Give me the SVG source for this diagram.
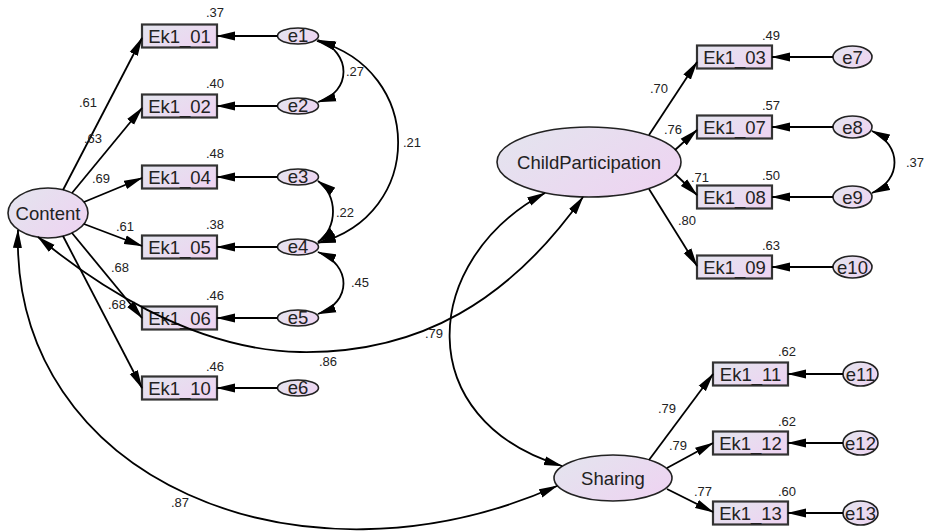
<svg xmlns="http://www.w3.org/2000/svg" width="925" height="532" viewBox="0 0 925 532">
<defs>
<linearGradient id="g" x1="0" y1="0" x2="1" y2="0.6">
<stop offset="0" stop-color="#e3e5ee"/>
<stop offset="1" stop-color="#edd5f1"/>
</linearGradient>
<marker id="a" markerUnits="userSpaceOnUse" markerWidth="19" markerHeight="10" viewBox="0 0 19 10" refX="18" refY="5" orient="auto-start-reverse">
<path d="M0,0.5 L19,5 L0,9.5 Z" fill="#000"/>
</marker>
<style>
.b{fill:url(#g);stroke:#333;stroke-width:2.2}
.l{fill:url(#g);stroke:#222;stroke-width:1.6}
.t{font-family:"Liberation Sans",Arial,sans-serif;font-size:18.5px;fill:#222;text-anchor:middle}
.n{font-family:"Liberation Sans",Arial,sans-serif;font-size:13px;fill:#222;text-anchor:middle}
.c path,.c line{fill:none;stroke:#000;stroke-width:1.8}
.c .s{marker-end:url(#a)}
.c .d{marker-start:url(#a);marker-end:url(#a)}
</style>
</defs>
<rect width="925" height="532" fill="#fff"/>

<g id="Content"><ellipse class="l" cx="48" cy="213" rx="40" ry="25"/><text class="t" x="48" y="219.5">Content</text></g>
<g id="ChildParticipation"><ellipse class="l" cx="589" cy="162" rx="92" ry="35"/><text class="t" x="589" y="168.5">ChildParticipation</text></g>
<g id="Sharing"><ellipse class="l" cx="613" cy="478" rx="59" ry="23"/><text class="t" x="613" y="484.5">Sharing</text></g>

<g id="Ek1_01"><rect class="b" x="142" y="24.5" width="75" height="23"/><text class="t" x="179.5" y="42.5">Ek1_01</text></g>
<g id="Ek1_02"><rect class="b" x="142" y="94.5" width="75" height="23"/><text class="t" x="179.5" y="112.5">Ek1_02</text></g>
<g id="Ek1_04"><rect class="b" x="142" y="165.5" width="75" height="23"/><text class="t" x="179.5" y="183.5">Ek1_04</text></g>
<g id="Ek1_05"><rect class="b" x="142" y="235.5" width="75" height="23"/><text class="t" x="179.5" y="253.5">Ek1_05</text></g>
<g id="Ek1_06"><rect class="b" x="142" y="306.5" width="75" height="23"/><text class="t" x="179.5" y="324.5">Ek1_06</text></g>
<g id="Ek1_10"><rect class="b" x="142" y="376.5" width="75" height="23"/><text class="t" x="179.5" y="394.5">Ek1_10</text></g>
<g id="Ek1_03"><rect class="b" x="697" y="45.5" width="75" height="23"/><text class="t" x="734.5" y="63.5">Ek1_03</text></g>
<g id="Ek1_07"><rect class="b" x="697" y="115.5" width="75" height="23"/><text class="t" x="734.5" y="133.5">Ek1_07</text></g>
<g id="Ek1_08"><rect class="b" x="697" y="185.5" width="75" height="23"/><text class="t" x="734.5" y="203.5">Ek1_08</text></g>
<g id="Ek1_09"><rect class="b" x="697" y="255.5" width="75" height="23"/><text class="t" x="734.5" y="273.5">Ek1_09</text></g>
<g id="Ek1_11"><rect class="b" x="713" y="362.5" width="75" height="23"/><text class="t" x="750.5" y="380.5">Ek1_11</text></g>
<g id="Ek1_12"><rect class="b" x="713" y="431.5" width="75" height="23"/><text class="t" x="750.5" y="449.5">Ek1_12</text></g>
<g id="Ek1_13"><rect class="b" x="713" y="501.5" width="75" height="23"/><text class="t" x="750.5" y="519.5">Ek1_13</text></g>

<g id="e1"><ellipse class="l" cx="298" cy="36" rx="20.5" ry="8"/><text class="t" x="298" y="42">e1</text></g>
<g id="e2"><ellipse class="l" cx="298" cy="106" rx="20.5" ry="8"/><text class="t" x="298" y="112">e2</text></g>
<g id="e3"><ellipse class="l" cx="298" cy="177" rx="20.5" ry="8"/><text class="t" x="298" y="183">e3</text></g>
<g id="e4"><ellipse class="l" cx="298" cy="247" rx="20.5" ry="8"/><text class="t" x="298" y="253">e4</text></g>
<g id="e5"><ellipse class="l" cx="298" cy="318" rx="20.5" ry="8"/><text class="t" x="298" y="324">e5</text></g>
<g id="e6"><ellipse class="l" cx="298" cy="388" rx="20.5" ry="8"/><text class="t" x="298" y="394">e6</text></g>
<g id="e7"><ellipse class="l" cx="852.5" cy="57" rx="19.5" ry="11"/><text class="t" x="852.5" y="63.5">e7</text></g>
<g id="e8"><ellipse class="l" cx="852.5" cy="127" rx="19.5" ry="11"/><text class="t" x="852.5" y="133.5">e8</text></g>
<g id="e9"><ellipse class="l" cx="852.5" cy="197" rx="19.5" ry="11"/><text class="t" x="852.5" y="203.5">e9</text></g>
<g id="e10"><ellipse class="l" cx="852.5" cy="267" rx="19.5" ry="11"/><text class="t" x="852.5" y="273.5">e10</text></g>
<g id="e11"><ellipse class="l" cx="860.5" cy="374" rx="17.5" ry="12"/><text class="t" x="860.5" y="380.5">e11</text></g>
<g id="e12"><ellipse class="l" cx="860.5" cy="443" rx="17.5" ry="12"/><text class="t" x="860.5" y="449.5">e12</text></g>
<g id="e13"><ellipse class="l" cx="860.5" cy="513" rx="17.5" ry="12"/><text class="t" x="860.5" y="519.5">e13</text></g>

<g id="connectors" class="c">
<line class="s" x1="63" y1="190" x2="142" y2="38"/>
<line class="s" x1="72" y1="193" x2="142" y2="108"/>
<line class="s" x1="84" y1="202" x2="142" y2="178"/>
<line class="s" x1="84" y1="224" x2="142" y2="246"/>
<line class="s" x1="72" y1="233" x2="142" y2="318"/>
<line class="s" x1="63" y1="236" x2="142" y2="388"/>
<line class="s" x1="277.5" y1="36" x2="217" y2="36"/>
<line class="s" x1="277.5" y1="106" x2="217" y2="106"/>
<line class="s" x1="277.5" y1="177" x2="217" y2="177"/>
<line class="s" x1="277.5" y1="247" x2="217" y2="247"/>
<line class="s" x1="277.5" y1="318" x2="217" y2="318"/>
<line class="s" x1="277.5" y1="388" x2="217" y2="388"/>
<line class="s" x1="649" y1="135" x2="697" y2="62"/>
<line class="s" x1="675" y1="150" x2="697" y2="130"/>
<line class="s" x1="675" y1="174" x2="697" y2="195"/>
<line class="s" x1="649" y1="189" x2="697" y2="266"/>
<line class="s" x1="833" y1="57" x2="772" y2="57"/>
<line class="s" x1="833" y1="127" x2="772" y2="127"/>
<line class="s" x1="833" y1="197" x2="772" y2="197"/>
<line class="s" x1="833" y1="267" x2="772" y2="267"/>
<line class="s" x1="649" y1="460" x2="713" y2="374"/>
<line class="s" x1="667" y1="468" x2="713" y2="443"/>
<line class="s" x1="667" y1="489" x2="713" y2="512"/>
<line class="s" x1="843" y1="374" x2="788" y2="374"/>
<line class="s" x1="843" y1="443" x2="788" y2="443"/>
<line class="s" x1="843" y1="513" x2="788" y2="513"/>
<path class="d" d="M318,40 C352,52 352,92 318,102"/>
<path class="d" d="M317,41 C425,70 425,215 318,243"/>
<path class="d" d="M318,181 C338,195 338,228 318,242"/>
<path class="d" d="M318,252 C352,265 352,302 318,314"/>
<path class="d" d="M872,131 C902,145 902,180 872,193"/>
<path class="d" d="M38,237 C90,280 190,350 300,352 C420,354 510,300 583,197"/>
<path class="d" d="M18,230 C10,480 300,600 557,486"/>
<path class="d" d="M545,193 C420,260 410,420 562,466"/>
</g>

<g id="labels">
<text class="n" x="215" y="17">.37</text>
<text class="n" x="215" y="88">.40</text>
<text class="n" x="215" y="158">.48</text>
<text class="n" x="215" y="229">.38</text>
<text class="n" x="215" y="300">.46</text>
<text class="n" x="215" y="371">.46</text>
<text class="n" x="88" y="107">.61</text>
<text class="n" x="93" y="143">.63</text>
<text class="n" x="101" y="183">.69</text>
<text class="n" x="125" y="231">.61</text>
<text class="n" x="120" y="272">.68</text>
<text class="n" x="117" y="309">.68</text>
<text class="n" x="355" y="76">.27</text>
<text class="n" x="412" y="147">.21</text>
<text class="n" x="345" y="217">.22</text>
<text class="n" x="360" y="287">.45</text>
<text class="n" x="328" y="366">.86</text>
<text class="n" x="180" y="507">.87</text>
<text class="n" x="434" y="338">.79</text>
<text class="n" x="771" y="40">.49</text>
<text class="n" x="771" y="110">.57</text>
<text class="n" x="771" y="180">.50</text>
<text class="n" x="771" y="250">.63</text>
<text class="n" x="659" y="93">.70</text>
<text class="n" x="673" y="134">.76</text>
<text class="n" x="700" y="182">.71</text>
<text class="n" x="687" y="225">.80</text>
<text class="n" x="915" y="167">.37</text>
<text class="n" x="787" y="356">.62</text>
<text class="n" x="787" y="426">.62</text>
<text class="n" x="787" y="496">.60</text>
<text class="n" x="667" y="413">.79</text>
<text class="n" x="678" y="450">.79</text>
<text class="n" x="703" y="496">.77</text>
</g>
</svg>
